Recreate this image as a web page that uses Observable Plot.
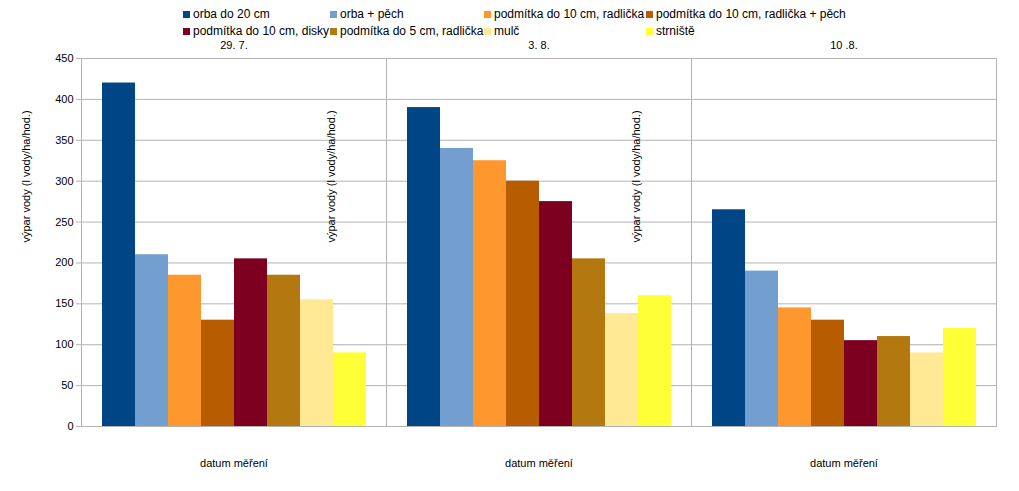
<!DOCTYPE html>
<html><head><meta charset="utf-8">
<script src="https://cdn.jsdelivr.net/npm/d3@7"></script>
<script src="https://cdn.jsdelivr.net/npm/@observablehq/plot@0.6"></script>
<style>
body{margin:0;font-family:"Liberation Sans",Arial,sans-serif;background:#fff}
#wrap{position:relative;width:1019px;height:491px}
#legend{position:absolute;left:0;top:0;width:1019px;height:50px;font-size:12px}
.it{position:absolute;display:flex;align-items:center;white-space:nowrap}
.sw{width:7px;height:7px;margin-right:3px}
</style></head><body>
<div id="wrap"><div id="legend"></div><div id="chart"></div></div>
<script>
const dates = ["29. 7.", "3. 8.", "10 .8."];
const series = ["orba do 20 cm","orba + pěch","podmítka do 10 cm, radlička","podmítka do 10 cm, radlička + pěch","podmítka do 10 cm, disky","podmítka do 5 cm, radlička","mulč","strniště"];
const colors = ["#004586","#729fcf","#ff972f","#b85c00","#7e0021","#b3780f","#ffe994","#ffff38"];
const v1 = [420,210,185,130,205,185,155,90];
const v2 = [390,340,325,300,275,205,138,160];
const v3 = [265,190,145,130,105,110,90,120];
const yTicks = [0,50,100,150,200,250,300,350,400,450];
const vals=[v1,v2,v3];
const data=[];
dates.forEach((d,i)=>series.forEach((s,j)=>data.push({date:d,series:s,value:vals[i][j]})));

const lx=[183,330,484,646], ly=[15,32];
const leg=document.getElementById("legend");
series.forEach((s,i)=>{
  const e=document.createElement("div");e.className="it";
  e.style.left=lx[i%4]+"px";e.style.top=(ly[Math.floor(i/4)]-8)+"px";
  e.innerHTML=`<span class="sw" style="background:${colors[i]}"></span>${s}`;
  leg.appendChild(e);
});

const chart=Plot.plot({
  width:1019,height:491,marginTop:58,marginBottom:65,marginLeft:80,marginRight:22,
  style:{fontFamily:"Liberation Sans, Arial, sans-serif",fontSize:"11px",color:"#000"},
  fx:{domain:dates,padding:0,label:null,axis:null},
  x:{domain:series,axis:null,paddingInner:0,paddingOuter:0.53},
  y:{domain:[0,450],ticks:yTicks,label:null},
  color:{domain:series,range:colors},
  marks:[
    Plot.ruleY(yTicks.slice(1),{stroke:"#b3b3b3"}),
    Plot.barY(data,{fx:"date",x:"series",y:"value",fill:"series"}),
    Plot.frame({stroke:"#b3b3b3"}),
    Plot.axisY({ticks:yTicks,tickSize:5,tickPadding:3,label:null,stroke:"#b3b3b3"}),
    Plot.axisFx({domain:dates,tickSize:0,tickPadding:10,label:null}),
    Plot.tickX(dates,{fx:d=>d,frameAnchor:"left",y1:0,y2:0,stroke:"#b3b3b3",dy:4,insetTop:-4}),
    Plot.text(["výpar vody (l vody/ha/hod.)"],{frameAnchor:"left",dx:-55,rotate:-90,fontSize:11,facet:"exclude"}),
    Plot.text(["datum měření"],{frameAnchor:"bottom",dy:40,fontSize:11})
  ]
});
document.getElementById("chart").appendChild(chart);
</script></body></html>
